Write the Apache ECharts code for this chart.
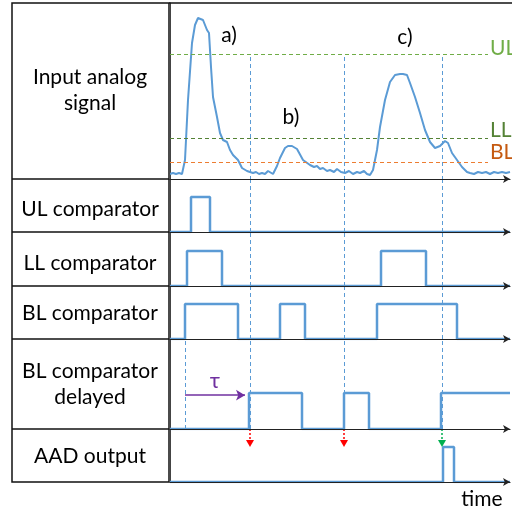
<!DOCTYPE html>
<html>
<head>
<meta charset="utf-8">
<script src="https://cdn.jsdelivr.net/npm/echarts@6/dist/echarts.min.js"></script>
<style>html,body{margin:0;padding:0;background:#fff}#main{width:512px;height:512px}</style>
</head>
<body>
<div id="main"></div>
<script>
// time axis runs 0..340 (arbitrary units)
var signalT = [0,3,6,9,12,13,15,18,22,25,28,30,33,37,39,41,43,47,50,53,57,60,63,65,68,72,77,80,83,86,89,92,95,98,100,103,107,110,115,118,122,127,133,140,144,147,150,153,157,160,164,167,171,175,179,183,187,190,194,197,200,203,207,210,215,220,225,230,233,237,240,245,250,255,260,265,270,275,278,282,287,292,297,300,304,308,312,316,320,324,328,332,336,340];
var signalV = [4,5,4,5,4,5,18,78,135,153,160,161,158,148,145,111,81,61,45,38,36,28,23,24,18,10,7,6,5,6,4,5,4,7,5,4,12,20,30,32,32,29,18,13,11,12,9,10,7,8,6,9,6,5,7,4,6,5,7,4,3,8,28,51,78,96,103,104,104,103,95,81,65,48,36,30,32,37,35,25,18,11,6,5,4,6,5,6,4,6,5,6,5,6];
var levelNames = ['UL', 'LL', 'BL'];
var levelValues = [124, 40, 16];
var ulPulses = [[21, 40]];
var llPulses = [[17, 52], [211, 256]];
var blPulses = [[15, 68], [110, 135], [207, 287]];
var tau = 64;
var aadPulses = [[273, 284]];
var triggers = [80, 174, 272];
var triggerOk = [false, false, true];
var peakNames = ['a)', 'b)', 'c)'];
var rowNames = ['Input analog\nsignal', 'UL comparator', 'LL comparator', 'BL comparator', 'BL comparator\ndelayed', 'AAD output'];

var T = 340;
var blue = '#5B9BD5';
var FONT = 'Lato';

var rowTop = [3, 179, 232, 286, 339, 429];
var rowH = [176, 53, 54, 53, 90, 53];
var unit = [0, 35, 35, 35, 36, 35];

function steps(pulses) {
  var d = [[0, 0]];
  var open = false;
  pulses.forEach(function (p) {
    d.push([p[0], 0], [p[0], 1]);
    if (p[1] >= T) { d.push([T, 1]); open = true; }
    else d.push([p[1], 1], [p[1], 0]);
  });
  if (!open) d.push([T, 0]);
  return d;
}
var delayedPulses = blPulses.map(function (p) { return [p[0] + tau, p[1] + tau]; });

var grids = [], xAxes = [], yAxes = [];
for (var i = 0; i < 6; i++) {
  grids.push({left: 170, width: T, top: rowTop[i], height: rowH[i]});
  xAxes.push({
    type: 'value', gridIndex: i, min: 0, max: T, z: 5,
    axisLine: {show: true, onZero: false, symbol: ['none', 'arrow'], symbolSize: [6, 7],
      lineStyle: {color: '#222', width: 1.2}},
    axisTick: {show: false}, axisLabel: {show: false}, splitLine: {show: false}
  });
  yAxes.push({
    type: 'value', gridIndex: i,
    min: i === 0 ? -1 : 0,
    max: i === 0 ? 175 : rowH[i] / unit[i],
    axisLine: {show: true, lineStyle: {color: '#444', width: 1}},
    axisTick: {show: false}, axisLabel: {show: false}, splitLine: {show: false}
  });
}

function vline(t, y0, y1) { return [{coord: [t, y0], symbol: 'none'}, {coord: [t, y1], symbol: 'none'}]; }
var dashStyle = {color: blue, width: 1, type: [4, 3]};

// signal grid markLines
var lineCols = ['#70AD47', '#548235', '#ED7D31'];
var labelCols = ['#70AD47', '#548235', '#C55A11'];
var sigMarks = levelNames.map(function (n, k) {
  return [{coord: [0, levelValues[k]], symbol: 'none', lineStyle: {color: lineCols[k], width: 1, type: [4, 3]},
      label: {show: true, position: 'end', formatter: n, color: labelCols[k], fontSize: 21, fontFamily: FONT,
        distance: 2, offset: [0, [-6, -8, -10][k]]}},
    {coord: [318, levelValues[k]], symbol: 'none'}];
});
triggers.forEach(function (t) {
  var m = vline(t, 121, -1);
  m[0].lineStyle = dashStyle;
  sigMarks.push(m);
});

var series = [];
series.push({
  type: 'line', xAxisIndex: 0, yAxisIndex: 0, showSymbol: false, animation: false,
  data: signalT.map(function (t, k) { return [t, signalV[k]]; }),
  lineStyle: {color: blue, width: 2}, itemStyle: {color: blue},
  markLine: {silent: true, symbol: 'none', animation: false, label: {show: false}, data: sigMarks}
});

var comps = [ulPulses, llPulses, blPulses, delayedPulses, aadPulses];
comps.forEach(function (p, k) {
  var gi = k + 1;
  var top = rowH[gi] / unit[gi];
  var marks = [];
  if (gi <= 4) triggers.forEach(function (t) { marks.push(vline(t, 0, top)); });
  if (gi === 4) {
    marks.push(vline(blPulses[0][0], 0, top));
    marks.push([{coord: [blPulses[0][0], 0.94], symbol: 'none',
        lineStyle: {color: '#7030A0', width: 1.5, type: 'solid'},
        label: {show: true, position: 'middle', formatter: 'τ', color: '#7030A0', fontSize: 22, fontFamily: FONT, distance: 3}},
      {coord: [blPulses[0][0] + 60, 0.94], symbol: 'arrow', symbolSize: [8, 9]}]);
  }
  if (gi === 5) {
    triggers.forEach(function (t, j) {
      var c = triggerOk[j] ? '#00B050' : '#FF0000';
      marks.push([{coord: [t, top], symbol: 'none', lineStyle: {color: c, width: 1.5, type: [2, 2]}},
        {coord: [t, 1.1], symbol: 'triangle', symbolSize: [8, 7]}]);
    });
  }
  series.push({
    type: 'line', xAxisIndex: gi, yAxisIndex: gi, showSymbol: false, animation: false,
    data: steps(p), lineStyle: {color: blue, width: 2.5}, itemStyle: {color: blue},
    markLine: {silent: true, symbol: 'none', animation: false, label: {show: false},
      lineStyle: dashStyle, data: marks}
  });
});

// table on the left
var graphics = [
  {type: 'rect', shape: {x: 12, y: 3, width: 157, height: 479}, style: {fill: 'none', stroke: '#111', lineWidth: 1.5}, z: 10},
  {type: 'line', shape: {x1: 169, y1: 3, x2: 512, y2: 3}, style: {stroke: '#111', lineWidth: 1.5}, z: 10}
];
rowTop.slice(1).forEach(function (y) {
  graphics.push({type: 'line', shape: {x1: 12, y1: y, x2: 169, y2: y}, style: {stroke: '#111', lineWidth: 1.5}, z: 10});
});
var rowY = [90, 209, 263, 313, 384, 456];
rowNames.forEach(function (n, k) {
  graphics.push({type: 'text', x: 90, y: rowY[k], z: 10,
    style: {text: n, textAlign: 'center', textVerticalAlign: 'middle', align: 'center', verticalAlign: 'middle',
      font: '21px ' + FONT, lineHeight: 26, fill: '#000'}});
});
var peakPos = [[229, 35], [291, 117], [405, 37]];
peakNames.forEach(function (n, k) {
  graphics.push({type: 'text', x: peakPos[k][0], y: peakPos[k][1], z: 10,
    style: {text: n, textAlign: 'center', textVerticalAlign: 'middle', align: 'center', verticalAlign: 'middle',
      font: '21px ' + FONT, fill: '#000'}});
});
graphics.push({type: 'text', x: 482, y: 499, z: 10,
  style: {text: 'time', textAlign: 'center', textVerticalAlign: 'middle', align: 'center', verticalAlign: 'middle',
    font: '21px ' + FONT, fill: '#000'}});

var chart = echarts.init(document.getElementById('main'));
chart.setOption({
  animation: false,
  grid: grids, xAxis: xAxes, yAxis: yAxes,
  series: series,
  graphic: graphics
});
</script>
</body>
</html>
